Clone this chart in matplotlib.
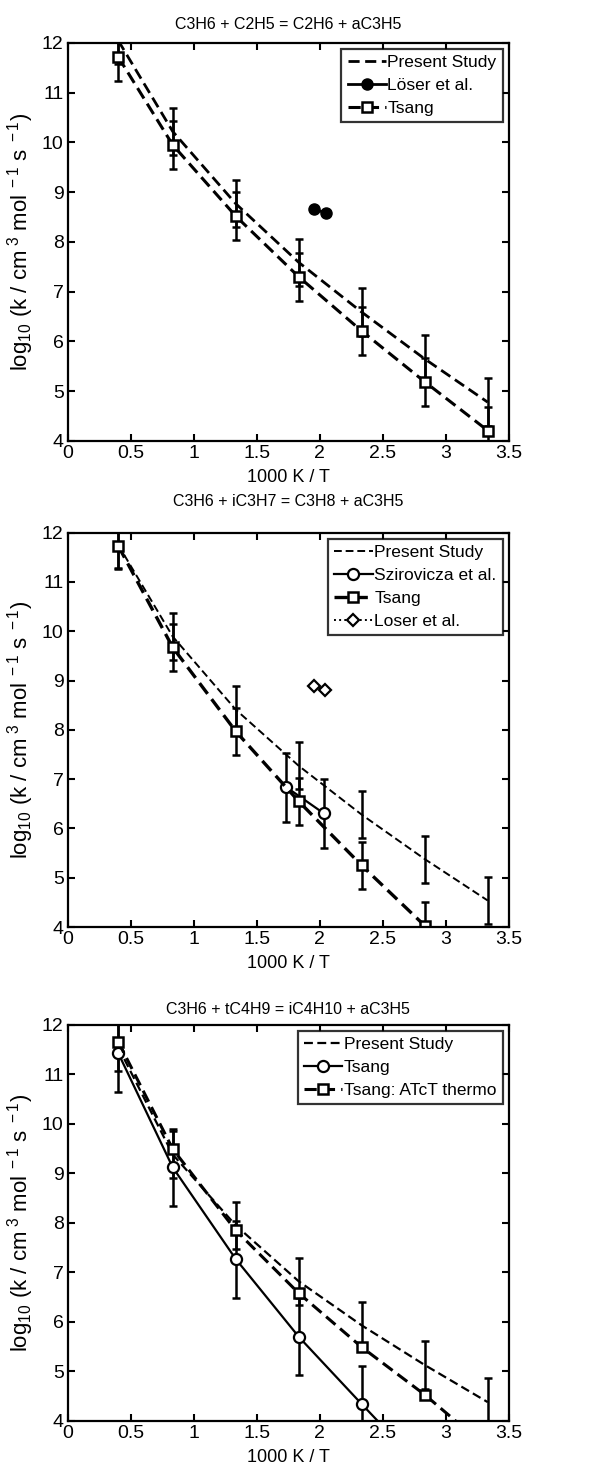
import numpy as np
import matplotlib
matplotlib.use("Agg")
import matplotlib.pyplot as plt

plt.rcParams['font.family'] = ['Liberation Sans', 'DejaVu Sans']
plt.rcParams['mathtext.fontset'] = 'custom'
plt.rcParams['mathtext.rm'] = 'Liberation Sans'
plt.rcParams['mathtext.it'] = 'Liberation Sans'

# 1000 K / T grid used by all panels
x = [0.4, 0.833, 1.333, 1.833, 2.333, 2.833, 3.333]

# error half-widths in log units
err3 = np.log10(3)
err5 = np.log10(5)
err6 = np.log10(6)

# panel 1: C3H6 + C2H5
p1_present = [12.05, 10.22, 8.77, 7.59, 6.59, 5.65, 4.78]
p1_tsang = [11.72, 9.95, 8.52, 7.30, 6.21, 5.19, 4.21]
p1_loser_x = [1.958, 2.05]
p1_loser_y = [8.66, 8.58]

# panel 2: C3H6 + iC3H7
p2_present = [11.75, 9.89, 8.41, 7.27, 6.28, 5.38, 4.54]
p2_tsang = [11.73, 9.67, 7.97, 6.55, 5.25, 4.03, 2.90]
p2_sziro_x = [1.733, 2.03]
p2_sziro_y = [6.84, 6.31]
p2_loser_x = [1.958, 2.04]
p2_loser_y = [8.89, 8.80]

# panel 3: C3H6 + tC4H9
p3_present = [11.55, 9.38, 7.95, 6.82, 5.93, 5.13, 4.38]
p3_tsang = [11.43, 9.12, 7.27, 5.70, 4.34, 3.00, 1.70]
p3_atct = [11.66, 9.49, 7.85, 6.58, 5.49, 4.53, 3.45]

titles = ["C3H6 + C2H5 = C2H6 + aC3H5",
          "C3H6 + iC3H7 = C3H8 + aC3H5",
          "C3H6 + tC4H9 = iC4H10 + aC3H5"]
title_pads = [10, 19, 8]
ylab = r"log$_{10}$ (k / cm$^{\ 3}$ mol$^{\ -1}$ s$^{\ -1}$)"

fig = plt.figure(figsize=(5.95, 14.67), dpi=100)
boxes = [[0.114, 0.6994, 0.741, 0.2713],
         [0.114, 0.368, 0.741, 0.269],
         [0.114, 0.0314, 0.741, 0.270]]
axs = [fig.add_axes(b) for b in boxes]

eb = dict(ecolor='k', elinewidth=1.8, capsize=3, capthick=1.8)

# panel 1
ax = axs[0]
ax.errorbar(x, p1_present, yerr=err3, fmt='none', **eb)
ax.errorbar(x, p1_tsang, yerr=err3, fmt='none', **eb)
ax.plot(x, p1_present, 'k--', lw=2.0, dashes=(4, 2), label='Present Study')
ax.plot(p1_loser_x, p1_loser_y, 'k-o', lw=2.0, ms=8, label='Löser et al.')
ax.plot(x, p1_tsang, 'k--', lw=2.2, dashes=(4, 2), marker='s', ms=7,
        mfc='white', mew=1.8, label='Tsang')

# panel 2
ax = axs[1]
ax.errorbar(x, p2_present, yerr=err3, fmt='none', **eb)
ax.errorbar(x, p2_tsang, yerr=err3, fmt='none', **eb)
ax.errorbar(p2_sziro_x, p2_sziro_y, yerr=err5, fmt='none', **eb)
ax.plot(x, p2_present, 'k--', lw=1.4, dashes=(4, 2), label='Present Study')
ax.plot(p2_sziro_x, p2_sziro_y, 'k-o', lw=1.6, ms=8, mfc='white', mew=1.6,
        label='Szirovicza et al.')
ax.plot(x, p2_tsang, 'k--', lw=2.4, dashes=(4, 2), marker='s', ms=7,
        mfc='white', mew=1.8, label='Tsang')
ax.plot(p2_loser_x, p2_loser_y, 'k:', lw=1.4, marker='D', ms=6,
        mfc='white', mew=1.6, label='Loser et al.')

# panel 3
ax = axs[2]
ax.errorbar(x, p3_present, yerr=err3, fmt='none', **eb)
ax.errorbar(x, p3_tsang, yerr=err6, fmt='none', **eb)
ax.plot(x, p3_present, 'k--', lw=1.6, dashes=(4, 2), label='Present Study')
ax.plot(x, p3_tsang, 'k-o', lw=1.6, ms=8, mfc='white', mew=1.6, label='Tsang')
ax.plot(x, p3_atct, 'k--', lw=2.2, dashes=(4, 2), marker='s', ms=7,
        mfc='white', mew=1.8, label='Tsang: ATcT thermo')

for ax, t, tp in zip(axs, titles, title_pads):
    ax.set_xlim(0, 3.5)
    ax.set_ylim(4, 12)
    ax.set_xticks(np.arange(0, 3.51, 0.5))
    ax.set_xticklabels(['0', '0.5', '1', '1.5', '2', '2.5', '3', '3.5'])
    ax.set_yticks(range(4, 13))
    ax.tick_params(direction='in', top=True, right=True, labelsize=14,
                   width=1.5, length=5, pad=3)
    for s in ax.spines.values():
        s.set_linewidth(1.6)
    ax.set_title(t, fontsize=11.5, pad=tp)
    ax.set_xlabel("1000 K / T", fontsize=13, labelpad=5)
    ax.set_ylabel(ylab, fontsize=16, labelpad=4)
    leg = ax.legend(loc='upper right', fontsize=12.5, frameon=True,
                    fancybox=False, edgecolor='k', handlelength=2.2,
                    handletextpad=0.1, borderpad=0.35, labelspacing=0.45,
                    borderaxespad=0.35)
    leg.get_frame().set_linewidth(1.6)

plt.savefig("out.png", dpi=100)
